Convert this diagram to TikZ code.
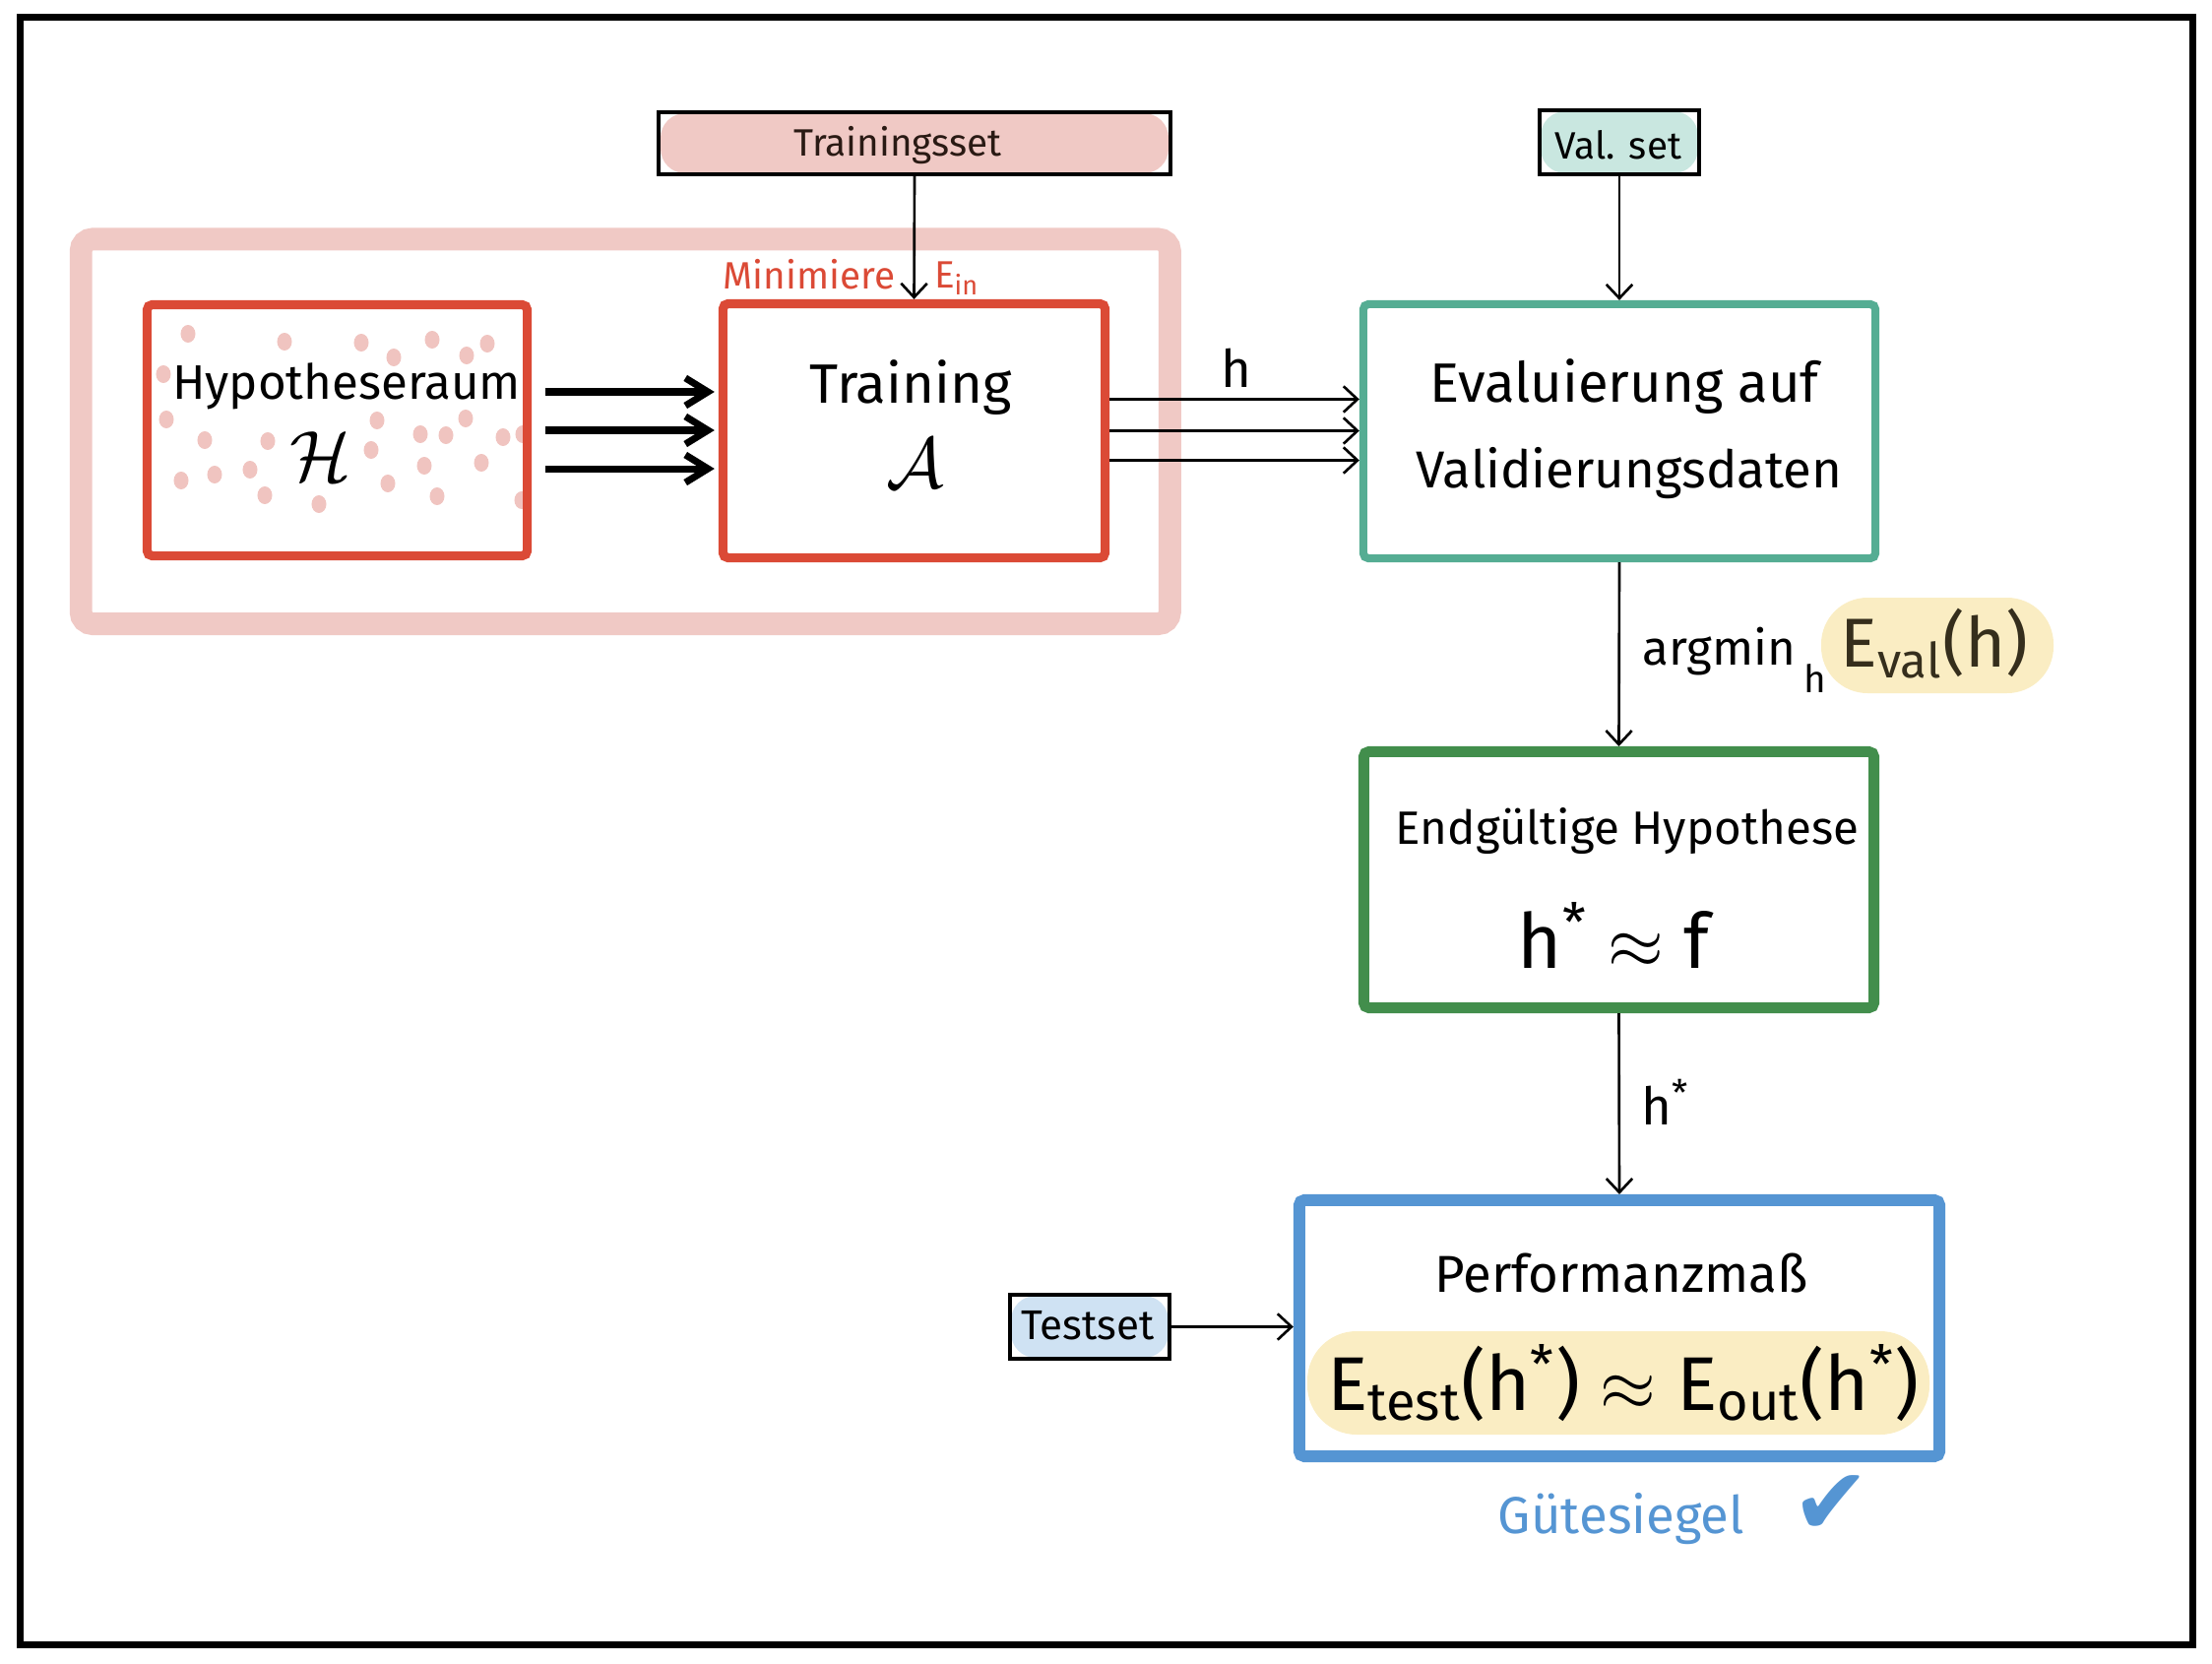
\documentclass[tikz,border=0pt]{standalone}
\usepackage{fontspec}
\setmainfont{Fira Sans}
\newfontfamily\symfont{DejaVu Sans}
\usetikzlibrary{arrows.meta}
\definecolor{bandpink}{HTML}{F0C9C5}
\definecolor{dotpink}{HTML}{F0C4C0}
\definecolor{boxred}{HTML}{DB4A36}
\definecolor{cteal}{HTML}{55AD93}
\definecolor{cgreen}{HTML}{428E4C}
\definecolor{cblue}{HTML}{5595D3}
\definecolor{cyellow}{HTML}{FAEDC3}
\definecolor{cmint}{HTML}{C9E7E0}
\definecolor{clightblue}{HTML}{CFE2F3}
\definecolor{darktext}{HTML}{2A1A14}
\definecolor{olivetext}{HTML}{352E1C}
\newcommand{\fs}[1]{\fontsize{#1}{#1}\selectfont}
\begin{document}
\begin{tikzpicture}[x=0.01cm,y=-0.01cm,
  bigbox/.style={draw, rectangle, inner sep=0pt, rounded corners=1.5pt},
  smallbox/.style={draw=black, rectangle, inner sep=0pt, line width=1.2pt},
  txt/.style={inner sep=0pt, anchor=base},
  thinarr/.style={draw=black, line width=0.75pt, -{Straight Barb[length=4pt,width=7.5pt,line width=0.75pt]}},
  thickarr/.style={draw=black, line width=2pt, -{Straight Barb[length=6.5pt,width=8pt,line width=2pt]}}
]
\useasboundingbox (0,0) rectangle (2247,1690);
% outer frame
\draw[line width=2pt] (20.5,17.5) rectangle (2227.5,1670.5);

% group band
\node[bigbox, draw=bandpink, line width=6.5pt, rounded corners=0.12cm,
      minimum width=11.055cm, minimum height=3.905cm] (group) at (635.25,438.25) {};

% dots in hypothesis space
\foreach \p in {(191,339),(289,347),(367,348),(439,345),(495,349),(400,363),(474,361),
  (166,380),(169,426),(383,427),(473,425),(208,447),(272,448),(427,441),(453,442),
  (511,444),(531,441),(377,457),(184,488),(218,482),(254,477),(431,473),(489,470),
  (394,491),(269,503),(324,512),(444,504),(530,508)}
  \fill[dotpink] \p ellipse[x radius=0.075cm, y radius=0.09cm];

% fills for small boxes and highlights
\fill[bandpink, rounded corners=0.25cm] (671,115) rectangle (1187,176);
\fill[cmint, rounded corners=0.25cm] (1565,113) rectangle (1725,176);
\fill[clightblue, rounded corners=0.25cm] (1027,1316) rectangle (1187,1379);
\fill[cyellow, rounded corners=0.5cm] (1328,1352) rectangle (1960,1457);
\fill[cyellow, rounded corners=0.47cm] (1850,607) rectangle (2086,704);

% main boxes
\node[bigbox, draw=boxred, line width=2.6pt, minimum width=3.86cm, minimum height=2.55cm] (hyp) at (342.5,437) {};
\node[bigbox, draw=boxred, line width=2.6pt, minimum width=3.88cm, minimum height=2.58cm] (train) at (928.5,437.5) {};
\node[bigbox, draw=cteal, line width=2.3pt, minimum width=5.20cm, minimum height=2.58cm] (eval) at (1645,438) {};
\node[bigbox, draw=cgreen, line width=3.1pt, minimum width=5.18cm, minimum height=2.60cm] (final) at (1644.5,893.5) {};
\node[bigbox, draw=cblue, line width=3.4pt, minimum width=6.50cm, minimum height=2.60cm] (perf) at (1645,1349) {};

% small input boxes
\node[smallbox, minimum width=5.20cm, minimum height=0.63cm] (tset) at (929,145.5) {};
\node[smallbox, minimum width=1.62cm, minimum height=0.65cm] (vset) at (1645,144.5) {};
\node[smallbox, minimum width=1.62cm, minimum height=0.65cm] (testset) at (1107,1347.5) {};

% texts
\node[txt, font=\fs{14pt}] (hyplbl) at (352,405) {Hypotheseraum};
\node[txt, font=\fs{20pt}] (hypsym) at (326,488) {$\mathcal{H}$};
\node[txt, font=\fs{16pt}] (trainlbl) at (925,409) {Training};
\node[txt, font=\fs{20pt}] (trainsym) at (930,495) {$\mathcal{A}$};
\node[txt, font=\fs{16pt}] (evallbl1) at (1650,408) {Evaluierung auf};
\node[txt, font=\fs{15pt}] (evallbl2) at (1655,495) {Validierungsdaten};
\node[txt, font=\fs{13.5pt}] (finallbl1) at (1653,857) {Endgültige Hypothese};
\node[txt, font=\fs{22pt}] (finallbl2) at (1639,983) {h\textsuperscript{*} $\approx$ f};
\node[txt, font=\fs{15pt}] (perflbl1) at (1647,1312) {Performanzmaß};
\node[txt, font=\fs{22pt}] (perflbl2) at (1649,1432) {E\textsubscript{test}(h\textsuperscript{*}) $\approx$ E\textsubscript{out}(h\textsuperscript{*})};
\node[txt, font=\fs{11pt}, text=darktext] (tsetlbl) at (912,158) {Trainingsset};
\node[txt, font=\fs{11pt}] (vsetlbl) at (1644,161) {Val. set};
\node[txt, font=\fs{12pt}] (testsetlbl) at (1105,1360) {Testset};
\node[txt, font=\fs{11pt}, text=boxred] (minlbl) at (822,293) {Minimiere};
\node[txt, font=\fs{11pt}, text=boxred] (einlbl) at (972,292) {E\textsubscript{in}};
\node[txt, font=\fs{15pt}] (hlbl) at (1256,393) {h};
\node[txt, font=\fs{14pt}, anchor=base west] (argminlbl) at (1668,675) {argmin\,\raisebox{-8pt}{\fs{11pt}h}};
\node[txt, font=\fs{20pt}, text=olivetext] (evalerr) at (1965,677) {E\textsubscript{val}(h)};
\node[txt, font=\fs{15pt}] (hstarlbl) at (1692,1142) {h\textsuperscript{*}};
\node[txt, font=\fs{15pt}, text=cblue] (guete) at (1647,1557) {Gütesiegel};
\node[txt, font=\symfont\fs{27pt}, text=cblue] (check) at (1860,1558) {✔};

% connectors
\draw[thinarr] (tset.south) -- (train.north);
\draw[thinarr] (vset.south) -- (eval.north);
\draw[thinarr] (eval.south) -- (final.north);
\draw[thinarr] (final.south) -- (perf.north);
\draw[thinarr] (testset.east) -- (testset.east -| perf.west);
\foreach \s in {0.39,0,-0.39}
  \draw[thickarr, shorten <=0.135cm, shorten >=0.04cm] ([yshift=\s cm]hyp.east) -- ([yshift=\s cm]hyp.east -| train.west);
\foreach \s in {0.32,0,-0.30}
  \draw[thinarr, line width=1pt] ([yshift=\s cm]train.east) -- ([yshift=\s cm]train.east -| eval.west);
\end{tikzpicture}
\end{document}
